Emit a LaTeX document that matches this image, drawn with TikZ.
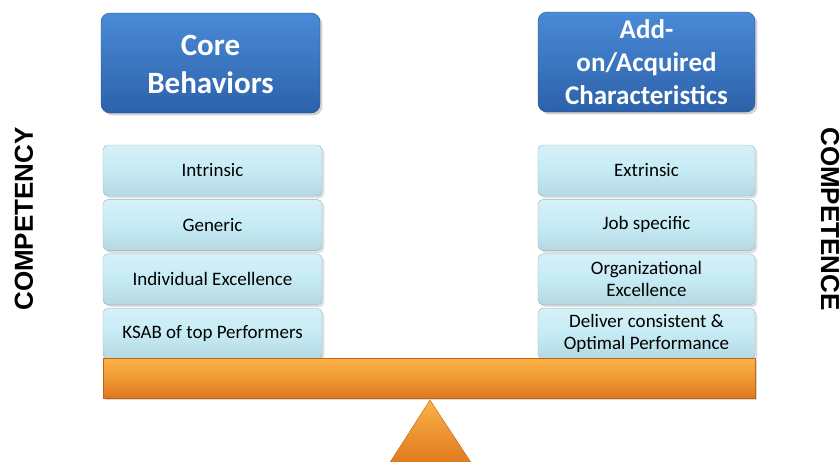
\documentclass[tikz,border=0pt]{standalone}
\usepackage{fontspec}
\setmainfont{Carlito}
\newfontfamily\sidefont{Liberation Sans}
\usetikzlibrary{positioning}
\usetikzlibrary{shadows}
\definecolor{headtop}{RGB}{74,138,214}
\definecolor{headbot}{RGB}{44,98,170}
\definecolor{boxfill}{RGB}{197,235,245}
\definecolor{boxline}{RGB}{150,180,192}
\definecolor{beamtop}{RGB}{252,178,70}
\definecolor{beambot}{RGB}{222,118,28}
\newcommand\mybox[3][]{%
  \node[mybox,#1] (#2) {#3};
}

\begin{document}
\begin{tikzpicture}[x=1pt, y=-1pt,
node distance= 3pt,
header/.style={
  rounded corners=9pt,
  draw=headbot!80!black,
  top color=headtop,
  bottom color=headbot,
  text=white,
  align=center,
  minimum width=219pt,
  minimum height=100pt,
  inner sep=2pt,
  drop shadow={opacity=0.35}},
mybox/.style={
  rounded corners=5pt,
  draw=boxline,
  top color=boxfill!70!white,
  bottom color=boxfill!92!black,
  middle color=boxfill,
  align=center,
  font=\fontsize{19}{22}\selectfont,
  minimum width=219pt,
  minimum height=51pt,
  inner sep=2pt,
  drop shadow={opacity=0.25}},
beam/.style={
  draw=beambot!85!black,
  top color=beamtop,
  bottom color=beambot,
  middle color=beamtop!60!beambot,
  minimum width=652pt,
  minimum height=40pt,
  inner sep=0pt,
  drop shadow={opacity=0.3}},
side/.style={
  font=\sidefont\bfseries\fontsize{26}{30}\selectfont,
  inner sep=0pt}
]
\useasboundingbox (0,0) rectangle (840,461);

% headers
\node[header, text height=62pt, font=\fontsize{31}{38}\selectfont\bfseries] (core) at (210.5,63) {Core\\Behaviors};
\node[header, minimum width=217pt, font=\fontsize{27}{33}\selectfont\bfseries] (addon) at (646.5,62) {Add-\\on/Acquired\\Characteristics};

% left pan
\node[mybox] (intrinsic) at (212.5,170.5) {Intrinsic};
\mybox[below=of intrinsic]{generic}{Generic}
\mybox[below=of generic]{indiv}{Individual Excellence}
\mybox[below=of indiv]{ksab}{KSAB of top Performers}

% right pan
\node[mybox, minimum width=217pt] (extrinsic) at (646.5,170.5) {Extrinsic};
\mybox[minimum width=217pt, below=of extrinsic]{jobspec}{Job specific}
\mybox[minimum width=217pt, below=of jobspec]{orgexc}{Organizational\\Excellence}
\mybox[minimum width=217pt, below=of orgexc]{deliver}{Deliver consistent \&\\Optimal Performance}

% beam and fulcrum
\node[beam] (beam) at (429,378) {};
\draw[draw=beambot!85!black, top color=beamtop, bottom color=beambot] (430,400) -- (474,467) -- (387,467) -- cycle;

% side labels
\node[side, rotate=90] (competency) at (24,219) {COMPETENCY};
\node[side, rotate=-90] (competence) at (830,219) {COMPETENCE};
\end{tikzpicture}
\end{document}
